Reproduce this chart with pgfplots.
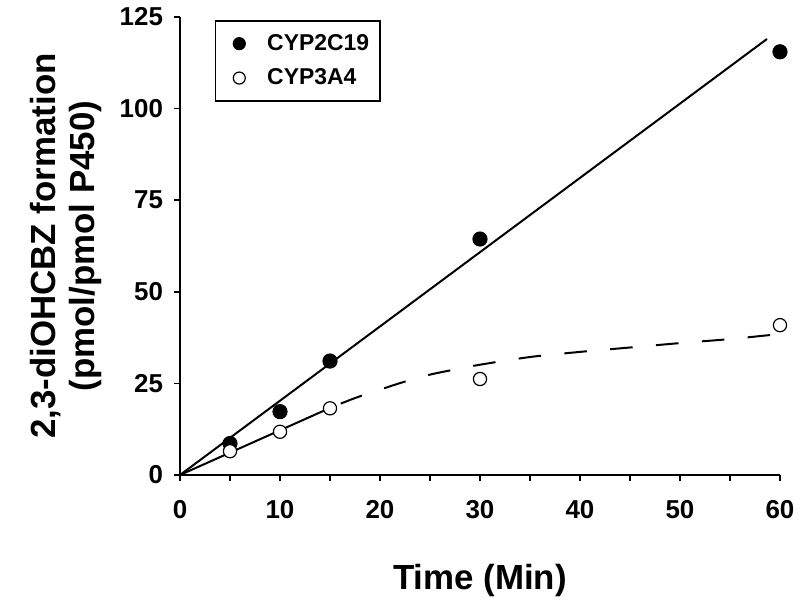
\documentclass[border=0pt]{standalone}
\usepackage{fontspec}
\setmainfont{Liberation Sans}
\usepackage{pgfplots}
\pgfplotsset{compat=1.18}
\begin{document}
\begin{tikzpicture}
\path[use as bounding box] (-90bp,-66bp) rectangle (310bp,237.5bp);
\begin{axis}[
  at={(0,0)}, anchor=south west,
  scale only axis, width=300bp, height=229bp,
  xmin=0, xmax=60, ymin=0, ymax=125,
  clip=false,
  axis x line=bottom, axis y line=left,
  axis line style={-, line width=1bp},
  xtick={0,10,...,60}, minor xtick={5,15,...,55},
  ytick={0,25,...,125},
  tick align=outside, major tick length=3bp, minor tick length=3bp,
  every tick/.style={black, line width=0.9bp},
  /pgf/number format/assume math mode=true,
  ticklabel style={font=\bfseries\fontsize{13}{15}\selectfont},
  xticklabel style={yshift=-6.3bp},
  yticklabel style={xshift=-2bp},
  xlabel={Time (Min)},
  ylabel={2,3-diOHCBZ formation\\(pmol/pmol P450)},
  xlabel style={at={([yshift=-52.5bp]axis description cs:0.5,0)}, anchor=center, font=\bfseries\fontsize{17.5}{21}\selectfont},
  ylabel style={at={([xshift=-57bp]axis description cs:0,0.5)}, anchor=center, align=center, font=\bfseries\fontsize{17.5}{20}\selectfont},
  legend style={at={(axis description cs:0.0583,0.9934)}, anchor=north west, draw=black, line width=0.75bp,
    font=\bfseries\fontsize{11.5}{13}\selectfont, inner xsep=5.5bp, inner ysep=6.7bp, row sep=7.7bp,
    nodes={inner sep=0pt}},
  legend cell align=left,
  legend image code/.code={\path (0bp,0bp) (19.5bp,0bp); \draw[#1, mark size=3bp] plot coordinates {(5.9bp,0bp)};},
]
\addplot[line width=1bp, forget plot] coordinates {(0,0) (58.7,119)};
\addplot[line width=1bp, forget plot] coordinates {(0,0) (15,18.3)};
\addplot[line width=1bp, smooth, dash pattern=on 11.3bp off 11.7bp, dash phase=17.2bp, forget plot] coordinates {
(15,18.3) (17.5,21) (20,23.3) (22.5,25.5) (25,27.4) (27.5,28.8) (30,30.1) (35,32.2) (40,33.6) (45,34.8) (50,36) (55,37.1) (59,38.2)};
\addplot[only marks, mark=*, mark size=3.5bp, mark options={fill=black, draw=black, line width=0.6bp}] coordinates {(5,8.6) (10,17.3) (15,31.1) (30,64.4) (60,115.5)};
\addlegendentry{CYP2C19}
\addplot[only marks, mark=*, mark size=3.3bp, mark options={fill=white, draw=black, line width=0.6bp}] coordinates {(5,6.5) (10,11.8) (15,18.2) (30,26.2) (60,40.9)};
\addlegendentry{CYP3A4}
\end{axis}
\end{tikzpicture}
\end{document}
